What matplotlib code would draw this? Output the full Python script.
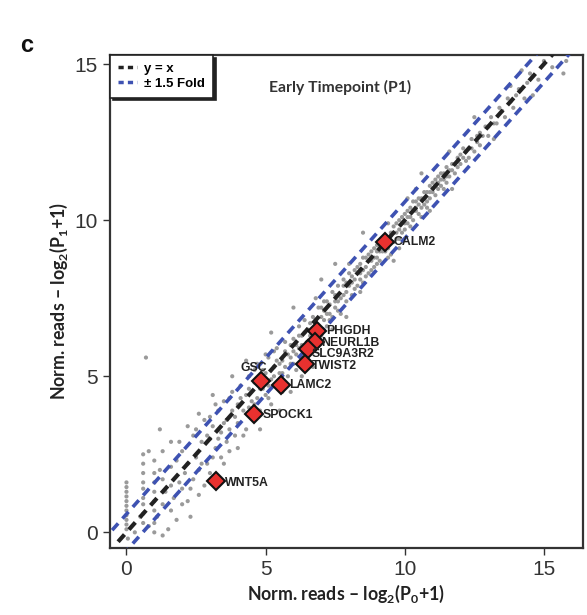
import numpy as np
import matplotlib
matplotlib.use("Agg")
import matplotlib.pyplot as plt
from matplotlib.lines import Line2D

plt.rcParams["font.family"] = ["Liberation Sans", "DejaVu Sans"]
plt.rcParams["mathtext.fontset"] = "custom"
plt.rcParams["mathtext.rm"] = "Lato:bold"
plt.rcParams["mathtext.it"] = "Lato:bold"
plt.rcParams["mathtext.default"] = "rm"

# background genes (log2 norm. reads)
p0 = [0.0, 0.0, 0.0, 0.0, 0.0, 0.0, 0.05, 0.3, 0.5, 0.6,
      0.6, 0.6, 0.6, 0.8, 0.8, 1.0, 1.0, 1.0, 1.1, 1.2,
      1.3, 1.5, 1.6, 1.6, 1.4, 1.7, 1.8, 1.9, 2.0, 2.0,
      2.1, 2.2, 2.3, 2.3, 2.4, 2.5, 2.6, 2.6, 2.7, 2.8,
      0.7, 1.2, 2.9, 3.0, 3.0, 3.1, 3.2, 3.3, 3.4, 3.4,
      3.5, 3.6, 3.6, 3.7, 3.8, 3.8, 3.9, 4.0, 4.0, 4.1,
      4.2, 4.3, 4.3, 4.4, 4.5, 4.5, 4.6, 4.7, 4.7, 4.8,
      4.9, 5.0, 5.0, 5.1, 5.2, 5.2, 5.3, 5.4, 5.4, 5.5,
      5.6, 5.6, 5.7, 5.8, 5.8, 5.9, 6.0, 6.0, 6.1, 6.2,
      6.2, 6.3, 6.3, 6.4, 6.5, 6.5, 6.6, 6.7, 6.7, 6.8,
      6.9, 6.9, 7.0, 7.0, 7.1, 7.2, 7.2, 7.3, 7.4, 7.4,
      7.5, 7.6, 7.6, 7.7, 7.8, 7.8, 7.9, 8.0, 8.0, 8.1,
      8.2, 8.3, 8.3, 8.4, 8.5, 8.5, 8.6, 8.7, 8.7, 8.8,
      8.9, 8.9, 9.0, 9.1, 9.1, 9.2, 9.3, 9.4, 9.4, 9.5,
      9.6, 9.7, 9.7, 9.8, 9.9, 10.0, 10.0, 10.1, 10.2, 10.3,
      10.3, 10.4, 10.5, 10.6, 10.6, 10.7, 10.8, 10.9, 10.9, 11.0,
      11.1, 11.2, 11.3, 11.3, 11.4, 11.5, 11.6, 11.7, 11.8, 11.9,
      12.0, 12.1, 12.2, 12.3, 12.4, 12.5, 12.6, 12.7, 12.9, 13.0,
      13.1, 13.3, 13.4, 13.6, 13.7, 13.9, 14.1, 14.3, 14.5, 14.8,
      15.0, 15.3, 15.7, 15.8, 14.2, 13.8, 14.6, 12.5, 13.2, 11.6,
      8.5, 9.6, 10.6, 11.7, 7.0, 7.9, 6.0, 6.3, 5.2, 5.9,
      4.3, 4.8, 3.8, 3.5, 3.1, 2.6, 4.0, 5.5, 6.7, 7.5,
      4.4, 4.6, 4.9, 5.1, 5.3, 5.5, 5.7, 5.9, 6.1, 6.2,
      6.4, 6.6, 6.8, 7.0, 7.1, 7.3, 7.5, 7.7, 7.9, 8.1,
      8.2, 8.4, 8.6, 8.8, 9.0, 9.0, 9.2, 9.3, 9.5, 9.6,
      9.8, 9.9, 10.1, 10.2, 10.4, 10.5, 10.7, 10.8, 11.0, 11.1,
      11.2, 11.4, 11.5, 11.7, 11.9, 12.1, 12.3, 12.6, 12.8, 13.5,
      8.0, 8.4, 9.4, 9.8, 10.4, 10.9, 6.8, 7.4, 5.0, 5.7,
      0.0, 0.0, 0.0, 0.0, 0.0, 0.6, 0.6, 0.6, 0.6, 0.6,
      1.0, 1.0, 1.0, 1.0, 1.0, 1.3, 1.3, 1.3, 1.6, 1.6,
      1.8, 1.9, 2.0, 2.2, 2.2, 2.4, 2.5, 2.7, 2.8, 2.9,
      3.0, 3.1, 3.2, 3.3, 3.5, 3.7, 3.7, 3.9, 4.1, 4.2,
      4.4, 4.6, 4.8, 5.0, 5.1, 5.3, 5.4, 5.6, 5.7, 5.9,
      6.0, 6.1, 6.3, 6.4, 6.5, 6.6, 6.8, 6.9, 7.1, 7.2,
      7.3, 7.5, 7.6, 7.8, 7.9, 8.1, 8.2, 8.4, 8.5, 8.6,
      8.8, 8.9, 9.0, 9.1, 9.2, 9.3, 9.5, 9.6, 9.7, 9.8,
      9.9, 10.0, 10.1, 10.2, 10.3, 10.4, 10.5, 10.6, 10.7, 10.8,
      10.9, 11.0, 11.1, 11.2, 11.3, 11.4, 11.5, 11.6, 11.8, 12.0,
      12.2, 12.4, 12.7, 13.0, 13.2, 13.8, 14.0, 14.4, 9.5, 10.1]
p1 = [0.1, 0.4, 0.7, 1.0, 1.3, 1.6, -0.2, 0.0, 0.5, 0.9,
      1.4, 1.9, 2.2, 0.2, 2.6, 1.0, 1.6, 0.0, 0.5, 2.0,
      -0.1, 0.1, 2.9, 0.7, 1.3, 1.1, 2.3, 1.6, 0.9, 2.6,
      1.9, 2.2, 0.5, 1.4, 3.1, 2.4, 1.2, 2.0, 2.9, 3.6,
      5.6, 3.3, 2.2, 3.0, 1.9, 3.4, 2.7, 3.9, 2.4, 3.2,
      4.2, 3.6, 2.9, 3.3, 4.5, 3.9, 3.1, 4.1, 3.5, 4.7,
      3.9, 4.4, 3.3, 5.0, 4.2, 3.7, 4.8, 4.3, 5.4, 3.9,
      4.6, 5.1, 4.4, 5.6, 4.9, 4.1, 5.3, 4.7, 5.9, 5.1,
      5.5, 4.5, 6.1, 5.7, 5.0, 5.4, 6.2, 5.8, 5.2, 6.6,
      5.9, 6.3, 5.6, 6.8, 6.1, 6.5, 5.8, 6.9, 6.4, 6.0,
      7.2, 6.6, 6.9, 6.3, 7.4, 7.0, 6.6, 7.3, 7.7, 6.9,
      7.2, 7.9, 7.4, 7.0, 7.6, 8.1, 7.4, 7.9, 8.3, 7.6,
      8.1, 8.5, 7.9, 8.3, 8.8, 8.0, 8.5, 8.9, 8.3, 8.7,
      9.1, 8.5, 8.8, 9.3, 8.7, 9.0, 9.5, 9.1, 8.8, 9.6,
      9.3, 9.9, 9.4, 9.7, 10.1, 9.7, 10.2, 9.9, 10.4, 10.0,
      10.6, 10.3, 10.7, 10.4, 10.1, 10.9, 10.6, 11.1, 10.7, 10.9,
      11.3, 11.0, 11.5, 11.1, 11.3, 11.7, 11.4, 11.8, 11.5, 12.0,
      11.8, 12.3, 11.9, 12.3, 12.6, 12.2, 12.7, 12.4, 13.0, 12.7,
      13.3, 13.1, 13.6, 13.3, 13.9, 13.6, 14.2, 13.9, 14.7, 14.5,
      15.1, 14.9, 14.7, 15.1, 14.8, 14.3, 14.0, 13.3, 12.6, 12.2,
      9.6, 8.7, 11.5, 11.0, 8.1, 6.9, 7.2, 5.0, 6.4, 4.5,
      5.5, 3.3, 5.0, 2.2, 4.4, 3.8, 2.7, 3.9, 5.3, 8.6,
      4.6, 4.1, 5.2, 4.7, 5.8, 5.4, 5.3, 6.0, 5.7, 6.3,
      6.0, 6.7, 6.5, 7.2, 6.8, 7.0, 7.6, 7.5, 8.0, 8.2,
      7.8, 8.6, 8.2, 9.0, 9.2, 8.6, 9.4, 9.0, 9.3, 9.8,
      9.4, 9.9, 10.3, 9.8, 10.6, 10.2, 10.5, 10.9, 11.2, 10.8,
      11.4, 11.0, 11.4, 11.6, 11.7, 12.0, 12.0, 12.5, 12.7, 13.5,
      8.6, 7.7, 9.9, 9.1, 11.0, 10.3, 7.5, 6.5, 5.7, 4.8,
      0.25, 0.55, 0.85, 1.15, 1.45, 0.3, 0.6, 1.1, 1.6, 2.5,
      0.3, 0.7, 1.3, 1.9, 2.3, 0.9, 1.7, 2.6, 1.5, 2.1,
      0.4, 2.9, 1.4, 3.4, 1.0, 1.7, 3.3, 2.2, 1.5, 3.1,
      3.7, 2.4, 4.1, 3.0, 3.5, 4.3, 2.6, 3.7, 4.3, 3.1,
      4.0, 5.2, 4.6, 4.8, 4.3, 5.0, 5.5, 5.1, 5.8, 5.6,
      5.4, 6.0, 6.0, 6.4, 5.9, 6.3, 6.8, 6.3, 7.1, 7.4,
      6.8, 7.4, 7.1, 7.9, 7.7, 8.0, 8.4, 8.1, 8.4, 8.8,
      8.4, 8.8, 9.0, 9.0, 9.2, 9.2, 9.5, 9.6, 9.6, 10.0,
      9.6, 9.9, 10.1, 10.1, 10.3, 10.4, 10.5, 10.7, 10.7, 10.4,
      10.9, 11.0, 11.1, 11.2, 11.3, 11.5, 11.2, 11.6, 11.8, 12.1,
      12.2, 12.3, 12.8, 13.0, 13.1, 13.8, 14.0, 14.4, 8.9, 10.7]

# highlighted genes
genes = ["CALM2", "PHGDH", "NEURL1B", "SLC9A3R2", "TWIST2", "GSC", "LAMC2", "SPOCK1", "WNT5A"]
gene_p0 = [9.28, 6.83, 6.76, 6.51, 6.40, 4.82, 5.57, 4.60, 3.20]
gene_p1 = [9.29, 6.44, 6.09, 5.87, 5.38, 4.84, 4.71, 3.78, 1.63]

fold = 1.5
ticks = [0, 5, 10, 15]

fig = plt.figure(figsize=(5.87, 6.15), dpi=100)
ax = fig.add_axes([0.187, 0.109, 0.806, 0.802])

ax.scatter(p0, p1, s=9, color="#9a9a9a", edgecolors="none", zorder=2)

# y = x and +/- fold lines
xx = np.array([-0.3, 15.5])
ax.plot(xx, xx, color="#222222", lw=3, ls=(0, (2.3, 1.6)), zorder=3)
xf = np.array([-2.0, 18.0])
off = np.log2(fold)
ax.plot(xf, xf + off, color="#3e52b2", lw=2.6, ls=(0, (2.5, 1.8)), zorder=3)
ax.plot(xf, xf - off, color="#3e52b2", lw=2.6, ls=(0, (2.5, 1.8)), zorder=3)

ax.plot(gene_p0, gene_p1, ls="none", marker="D", ms=9, mfc="#e8312f",
        mec="#111111", mew=1.5, zorder=5)

# label offsets in pixels (right, down)
offsets = {"CALM2": (9, 0), "PHGDH": (10, 0), "NEURL1B": (7, 1), "SLC9A3R2": (4, 5),
           "TWIST2": (7, 2), "GSC": (-7, -13), "LAMC2": (8, 0), "SPOCK1": (8, 1),
           "WNT5A": (9, 2)}
for g, x, y in zip(genes, gene_p0, gene_p1):
    dx, dy = offsets[g]
    ha = "center" if g == "GSC" else "left"
    ax.annotate(g, (x, y), xytext=(dx, -dy), textcoords="offset pixels",
                ha=ha, va="center", fontsize=8.8, fontweight="bold", color="#222222", zorder=6)

ax.set_xlim(-0.6, 16.4)
ax.set_ylim(-0.5, 15.3)
ax.set_xticks(ticks)
ax.set_yticks(ticks)
ax.tick_params(labelsize=15, colors="#333333", length=5, width=1, direction="out")
for s in ax.spines.values():
    s.set_linewidth(1.6)
    s.set_color("#333333")

ax.text(0.486, 0.933, "Early Timepoint (P1)", transform=ax.transAxes, ha="center",
        va="center", fontsize=11.3, fontweight="bold", family="Lato", color="#333333")

ax.set_xlabel("Norm. reads \u2013 log$_2$(P$_0$+1)", fontsize=12.8, fontweight="bold",
              family="Lato", color="#222222", labelpad=3)
ax.set_ylabel("Norm. reads \u2013 log$_2$(P$_1$+1)", fontsize=12.8, fontweight="bold",
              family="Lato", color="#222222", labelpad=3)

handles = [Line2D([], [], color="#222222", lw=2.5, ls=(0, (1.5, 1.2))),
           Line2D([], [], color="#3e52b2", lw=2.5, ls=(0, (1.5, 1.2)))]
leg = ax.legend(handles, ["y = x", "\u00b1 1.5 Fold"], loc="upper left", borderaxespad=0,
                fancybox=False, edgecolor="#222222", framealpha=1, handlelength=1.5,
                handletextpad=0.5, labelspacing=0.2, borderpad=0.6,
                shadow={"color": "#222222", "alpha": 1},
                prop={"weight": "bold", "size": 9.5})
leg.get_frame().set_linewidth(1.2)
leg.set_zorder(7)

fig.text(0.034, 0.915, "c", fontsize=17, fontweight="bold", color="#111111")

fig.savefig("out.png", dpi=100)
